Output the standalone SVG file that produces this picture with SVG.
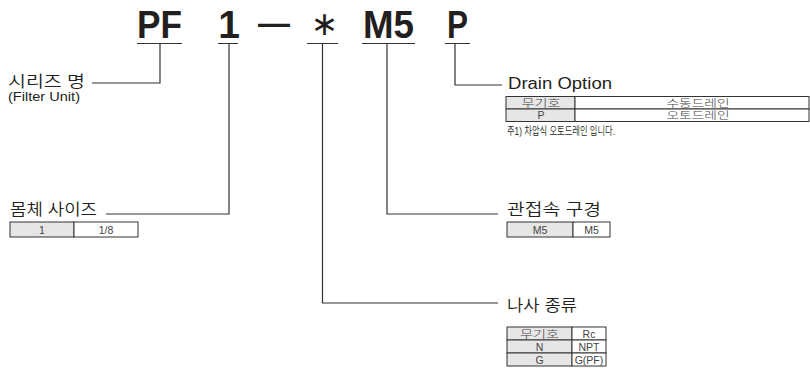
<svg xmlns="http://www.w3.org/2000/svg" width="810" height="371" viewBox="0 0 810 371">
<style>
.code{font-family:"Liberation Sans",Arial,sans-serif;font-weight:bold;font-size:39px;fill:#231f20}
.ln{stroke:#333;stroke-width:1.2;fill:none}
.hd{font-family:"Liberation Sans","Noto Sans CJK KR",sans-serif;font-size:16px;font-weight:350;fill:#231f20}
.sub{font-family:"Liberation Sans",sans-serif;font-size:12px;fill:#231f20}
.note{font-family:"Liberation Sans","Noto Sans CJK KR",sans-serif;font-size:11px;font-weight:350;fill:#231f20}
.cell{stroke:#333;stroke-width:1;fill:#fff}
.cg{stroke:#333;stroke-width:1;fill:#e6e6e6}
.ct{font-family:"Liberation Sans","Noto Sans CJK KR",sans-serif;font-size:10.5px;font-weight:300;fill:#444;text-anchor:middle}
</style>
<rect width="810" height="371" fill="#fff"/>
<g id="code">
<text class="code" x="137" y="38" textLength="45" lengthAdjust="spacingAndGlyphs">PF</text>
<text class="code" x="229" y="38" text-anchor="middle">1</text>
<text class="code" x="258" y="34" style="font-size:32px" textLength="32" lengthAdjust="spacingAndGlyphs">—</text>
<text x="324.5" y="35" style="font-family:'DejaVu Sans',sans-serif;font-size:33px;fill:#231f20" text-anchor="middle">∗</text>
<text class="code" x="363" y="38" textLength="51" lengthAdjust="spacingAndGlyphs">M5</text>
<text class="code" x="447" y="38" textLength="21" lengthAdjust="spacingAndGlyphs">P</text>
</g>
<g id="connectors">
<path class="ln" d="M137 43.5H182M160 43.5V83H92"/>
<path class="ln" d="M218 43.5H238M229 43.5V214H106"/>
<path class="ln" d="M307 43.5H338M322.5 43.5V303H498"/>
<path class="ln" d="M362 43.5H415M387 43.5V214H498"/>
<path class="ln" d="M445 43.5H470M455 43.5V85H502"/>
</g>
<g id="series">
<text class="hd" x="8" y="87" textLength="77" lengthAdjust="spacingAndGlyphs">시리즈 명</text>
<text class="sub" x="8" y="101" textLength="72" lengthAdjust="spacingAndGlyphs">(Filter Unit)</text>
</g>
<g id="body-size">
<text class="hd" x="10" y="215" textLength="87" lengthAdjust="spacingAndGlyphs">몸체 사이즈</text>
<rect class="cg" x="10" y="222" width="64" height="15"/>
<rect class="cell" x="74" y="222" width="64" height="15"/>
<text class="ct" x="42" y="233.5">1</text>
<text class="ct" x="106" y="233.5">1/8</text>
</g>
<g id="port-size">
<text class="hd" x="507" y="215" textLength="94" lengthAdjust="spacingAndGlyphs">관접속 구경</text>
<rect class="cg" x="507" y="222" width="66" height="15"/>
<rect class="cell" x="573" y="222" width="37" height="15"/>
<text class="ct" x="540" y="233.5">M5</text>
<text class="ct" x="591.5" y="233.5">M5</text>
</g>
<g id="drain-option">
<text class="hd" x="508" y="89" textLength="104" lengthAdjust="spacingAndGlyphs">Drain Option</text>
<rect class="cg" x="506" y="96.5" width="69" height="12.5"/>
<rect class="cell" x="575" y="96.5" width="234" height="12.5"/>
<rect class="cg" x="506" y="109" width="69" height="12.5"/>
<rect class="cell" x="575" y="109" width="234" height="12.5"/>
<text class="ct" x="541" y="106.5" textLength="39" lengthAdjust="spacingAndGlyphs">무기호</text>
<text class="ct" x="698" y="106.5" textLength="63" lengthAdjust="spacingAndGlyphs">수동드레인</text>
<text class="ct" x="541" y="119">P</text>
<text class="ct" x="698" y="119" textLength="63" lengthAdjust="spacingAndGlyphs">오토드레인</text>
<text class="note" x="507" y="135" textLength="108" lengthAdjust="spacingAndGlyphs">주1) 차압식 오토드레인 입니다.</text>
</g>
<g id="thread-type">
<text class="hd" x="507" y="311" textLength="70" lengthAdjust="spacingAndGlyphs">나사 종류</text>
<rect class="cg" x="507" y="327" width="65" height="13"/>
<rect class="cell" x="572" y="327" width="34" height="13"/>
<rect class="cg" x="507" y="340" width="65" height="13"/>
<rect class="cell" x="572" y="340" width="34" height="13"/>
<rect class="cg" x="507" y="353" width="65" height="13"/>
<rect class="cell" x="572" y="353" width="34" height="13"/>
<text class="ct" x="539.5" y="337.5" textLength="39" lengthAdjust="spacingAndGlyphs">무기호</text>
<text class="ct" x="589" y="337.5">Rc</text>
<text class="ct" x="539.5" y="350.5">N</text>
<text class="ct" x="589" y="350.5">NPT</text>
<text class="ct" x="539.5" y="363.5">G</text>
<text class="ct" x="589" y="363.5">G(PF)</text>
</g>
</svg>
